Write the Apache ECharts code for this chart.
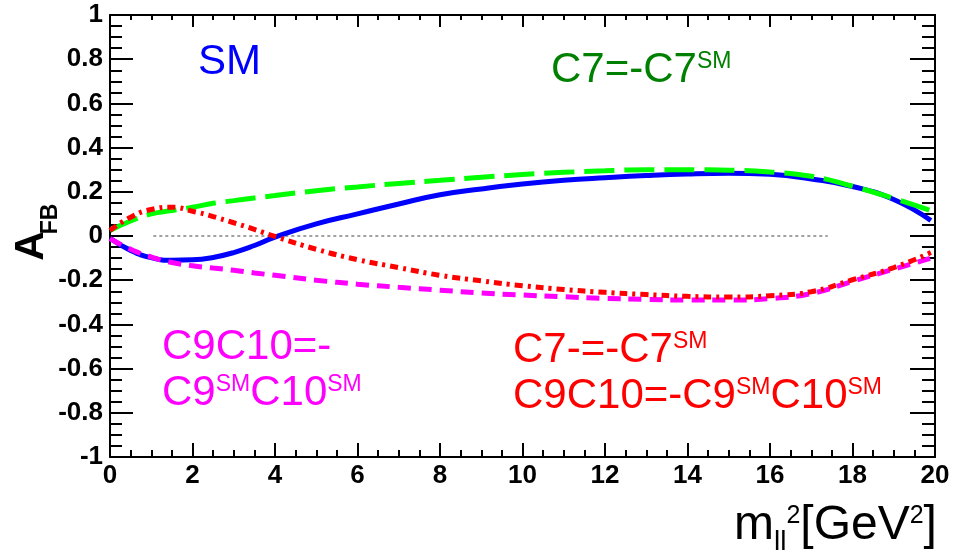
<!DOCTYPE html>
<html><head><meta charset="utf-8">
<script src="https://cdn.jsdelivr.net/npm/echarts@6/dist/echarts.min.js"></script>
<style>html,body{margin:0;padding:0;background:#fff}#c{width:965px;height:555px}</style>
</head><body><div id="c"></div>
<script>
// ---- data ----
const xValues        = [0, 0.5, 1, 1.5, 2, 2.5, 3, 3.5, 4, 5, 6, 7, 8, 9, 10, 11, 12, 13, 14, 15, 16, 17, 18, 19, 19.9];
const smValues       = [-0.01, -0.065, -0.098, -0.11, -0.108, -0.097, -0.075, -0.043, -0.005, 0.055, 0.10, 0.145, 0.187, 0.213, 0.235, 0.252, 0.264, 0.274, 0.281, 0.284, 0.279, 0.258, 0.224, 0.165, 0.07];
const c7FlipValues   = [0.025, 0.068, 0.10, 0.115, 0.13, 0.148, 0.16, 0.172, 0.183, 0.205, 0.222, 0.238, 0.252, 0.266, 0.278, 0.288, 0.295, 0.30, 0.30, 0.298, 0.29, 0.27, 0.225, 0.17, 0.115];
const c9c10FlipValues= [-0.012, -0.06, -0.095, -0.12, -0.135, -0.145, -0.155, -0.167, -0.178, -0.2, -0.218, -0.232, -0.245, -0.258, -0.267, -0.275, -0.282, -0.287, -0.29, -0.29, -0.283, -0.26, -0.205, -0.15, -0.1];
const bothFlipValues = [0.025, 0.085, 0.12, 0.13, 0.112, 0.088, 0.06, 0.03, -0.002, -0.06, -0.107, -0.143, -0.178, -0.203, -0.225, -0.242, -0.255, -0.265, -0.273, -0.276, -0.27, -0.252, -0.198, -0.143, -0.075];
const refLineX = [1.05, 17.4];
const refLineY = [0, 0];
const xAxisRange = {min: 0, max: 20, interval: 2};
const yAxisRange = {min: -1, max: 1, interval: 0.2};

const FONT = "'Liberation Sans', Arial, Helvetica, sans-serif";
const pairs = (xs, ys) => xs.map((x, i) => [x, ys[i]]);

const chart = echarts.init(document.getElementById('c'), null, {renderer: 'canvas'});

const tickStyle = {color: '#000', width: 2};
const axisLineStyle = {show: true, onZero: false, lineStyle: {color: '#000', width: 2}};
const labelStyle = {color: '#000', fontFamily: FONT, fontWeight: 'bold', fontSize: 26};

function lineSeries(name, data, color, type, width, z) {
  return {
    name, type: 'line', data, smooth: true, showSymbol: false, symbol: 'none',
    xAxisIndex: 0, yAxisIndex: 0, z,
    lineStyle: {color, width, type, cap: 'butt'},
    emphasis: {disabled: true}, animation: false
  };
}

const supPad = [3, 0, 0, 0];
const annotRich = (color) => ({
  m: {fontSize: 42, fontFamily: FONT, fill: color, color: color, lineHeight: 46},
  s: {fontSize: 23, fontFamily: FONT, fill: color, color: color, verticalAlign: 'top', padding: supPad, lineHeight: 46}
});

const option = {
  backgroundColor: '#fff',
  animation: false,
  grid: {left: 110, right: 30, top: 15, bottom: 98, containLabel: false},
  xAxis: [
    {type: 'value', position: 'bottom', min: xAxisRange.min, max: xAxisRange.max, interval: xAxisRange.interval,
     axisLine: axisLineStyle,
     axisTick: {show: true, inside: true, length: 14, lineStyle: tickStyle},
     minorTick: {show: true, splitNumber: 4, length: 7, lineStyle: tickStyle},
     axisLabel: Object.assign({margin: 6, showMinLabel: true, showMaxLabel: true}, labelStyle),
     splitLine: {show: false}},
    {type: 'value', position: 'top', min: xAxisRange.min, max: xAxisRange.max, interval: xAxisRange.interval,
     axisLine: axisLineStyle,
     axisTick: {show: true, inside: true, length: 12, lineStyle: tickStyle},
     minorTick: {show: true, splitNumber: 4, length: 5, lineStyle: tickStyle},
     axisLabel: {show: false}, splitLine: {show: false}}
  ],
  yAxis: [
    {type: 'value', position: 'left', min: yAxisRange.min, max: yAxisRange.max, interval: yAxisRange.interval,
     axisLine: axisLineStyle,
     axisTick: {show: true, inside: true, length: 23, lineStyle: tickStyle},
     minorTick: {show: true, splitNumber: 4, length: 12, lineStyle: tickStyle},
     axisLabel: Object.assign({margin: 7, showMinLabel: true, showMaxLabel: true}, labelStyle),
     splitLine: {show: false}},
    {type: 'value', position: 'right', min: yAxisRange.min, max: yAxisRange.max, interval: yAxisRange.interval,
     axisLine: axisLineStyle,
     axisTick: {show: true, inside: true, length: 25, lineStyle: tickStyle},
     minorTick: {show: true, splitNumber: 4, length: 13, lineStyle: tickStyle},
     axisLabel: {show: false}, splitLine: {show: false}}
  ],
  series: [
    {type: 'line', data: pairs(refLineX, refLineY), showSymbol: false, symbol: 'none', z: 1,
     lineStyle: {color: '#444', width: 1, type: [3, 3]}, emphasis: {disabled: true}},
    lineSeries('SM', pairs(xValues, smValues), '#0000ff', 'solid', 5, 2),
    lineSeries('C7=-C7SM', pairs(xValues, c7FlipValues), '#00ff00', [30, 10], 5, 3),
    lineSeries('C9C10=-C9SMC10SM', pairs(xValues, c9c10FlipValues), '#ff00ff', [13, 8], 5, 4),
    lineSeries('both', pairs(xValues, bothFlipValues), '#ff0000', [8, 5, 3, 5], 5, 5)
  ],
  graphic: [
    {type: 'text', x: 198, y: 39, silent: true,
     style: {text: '{m|SM}', rich: annotRich('#0000ff'), align: 'left', verticalAlign: 'top'}},
    {type: 'text', x: 551, y: 47, silent: true,
     style: {text: '{m|C7=-C7}{s|SM}', rich: annotRich('#008000'), align: 'left', verticalAlign: 'top'}},
    {type: 'text', x: 162, y: 324, silent: true,
     style: {text: '{m|C9C10=-}\n{m|C9}{s|SM}{m|C10}{s|SM}', rich: annotRich('#ff00ff'), align: 'left', verticalAlign: 'top'}},
    {type: 'text', x: 513, y: 327, silent: true,
     style: {text: '{m|C7-=-C7}{s|SM}\n{m|C9C10=-C9}{s|SM}{m|C10}{s|SM}', rich: annotRich('#ff0000'), align: 'left', verticalAlign: 'top'}},
    // y axis title A_FB
    {type: 'text', x: 32, y: 246, rotation: Math.PI / 2, silent: true,
     style: {text: 'A', font: 'bold 41px ' + FONT, fill: '#000', align: 'center', verticalAlign: 'middle'}},
    {type: 'text', x: 51, y: 219, rotation: Math.PI / 2, silent: true,
     style: {text: 'FB', font: 'bold 23px ' + FONT, fill: '#000', align: 'center', verticalAlign: 'middle'}},
    // x axis title
    {type: 'text', x: 734, y: 496, silent: true,
     style: {
       text: '{m|m}{b|ll}{p|2}{m|[GeV}{p|2}{m|]}', align: 'left', verticalAlign: 'top',
       rich: {
         m: {fontSize: 48, fontFamily: FONT, fill: '#000', color: '#000', lineHeight: 60},
         b: {fontSize: 28, fontFamily: FONT, fill: '#000', color: '#000', verticalAlign: 'bottom', lineHeight: 60},
         p: {fontSize: 25, fontFamily: FONT, fill: '#000', color: '#000', verticalAlign: 'top', padding: [8, 0, 0, 0], lineHeight: 60}
       }
     }}
  ]
};
chart.setOption(option);
</script>
</body></html>
